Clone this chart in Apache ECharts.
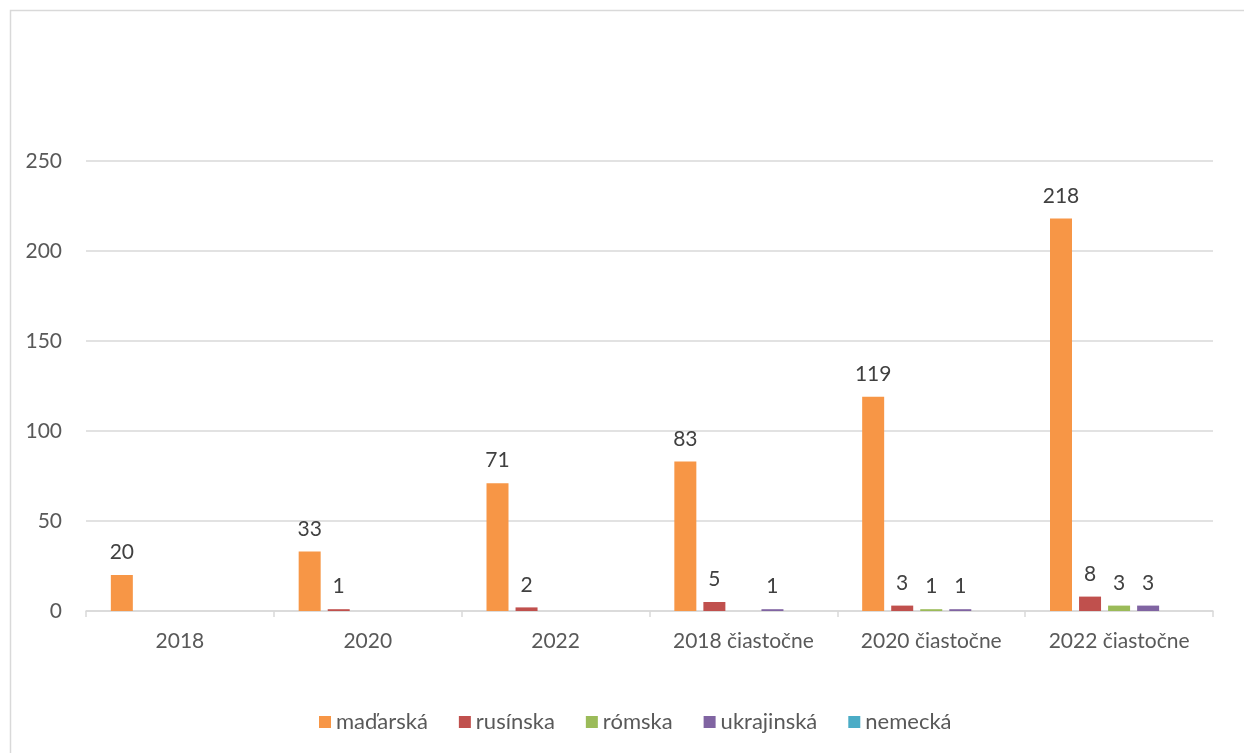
<!DOCTYPE html>
<html>
<head>
<meta charset="utf-8">
<script src="https://cdn.jsdelivr.net/npm/echarts@6/dist/echarts.min.js"></script>
<style>
  html, body { margin: 0; padding: 0; background: #fff; }
  #chart { width: 1244px; height: 753px; }
</style>
</head>
<body>
<div id="chart"></div>
<script>
// Categories on the x axis
const categories = ['2018', '2020', '2022', '2018 čiastočne', '2020 čiastočne', '2022 čiastočne'];

// Series values per language
const madarska   = [20, 33, 71, 83, 119, 218];
const rusinska   = [0, 1, 2, 5, 3, 8];
const romska     = [0, 0, 0, 0, 1, 3];
const ukrajinska = [0, 0, 0, 1, 1, 3];
const nemecka    = [0, 0, 0, 0, 0, 0];

const seriesDefs = [
  { name: 'maďarská',   data: madarska,   color: '#F79646' },
  { name: 'rusínska',   data: rusinska,   color: '#C0504D' },
  { name: 'rómska',     data: romska,     color: '#9BBB59' },
  { name: 'ukrajinská', data: ukrajinska, color: '#8064A2' },
  { name: 'nemecká',    data: nemecka,    color: '#4BACC6' }
];

const FONT = 'Lato, "Open Sans", sans-serif';

const chart = echarts.init(document.getElementById('chart'), null, { renderer: 'canvas' });

chart.setOption({
  backgroundColor: '#ffffff',
  animation: false,
  textStyle: { fontFamily: FONT },
  graphic: [{
    type: 'rect',
    shape: { x: 10.5, y: 10.5, width: 1260, height: 780 },
    style: { fill: 'none', stroke: '#d9d9d9', lineWidth: 1.5 },
    silent: true,
    z: -10
  }],
  grid: { left: 86, right: 31, top: 161, bottom: 142, containLabel: false },
  legend: {
    bottom: 15,
    left: 314,
    itemWidth: 12,
    itemHeight: 12,
    itemGap: 31,
    icon: 'rect',
    textStyle: { fontSize: 22, color: '#595959', fontFamily: FONT },
    data: seriesDefs.map(s => s.name)
  },
  xAxis: {
    type: 'category',
    data: categories,
    axisLine: { lineStyle: { color: '#d9d9d9', width: 1.5 } },
    axisTick: { show: true, length: 6, lineStyle: { color: '#d9d9d9', width: 1.5 } },
    axisLabel: { fontSize: 21, color: '#595959', margin: 20, fontFamily: FONT }
  },
  yAxis: {
    type: 'value',
    min: 0,
    max: 250,
    interval: 50,
    axisLine: { show: false },
    axisTick: { show: false },
    axisLabel: { fontSize: 21, color: '#595959', margin: 24, fontFamily: FONT },
    splitLine: { lineStyle: { color: '#d9d9d9', width: 1.5 } }
  },
  series: seriesDefs.map(s => ({
    name: s.name,
    type: 'bar',
    data: s.data,
    barWidth: 22,
    barGap: '32%',
    itemStyle: { color: s.color },
    label: {
      show: true,
      position: 'top',
      distance: 12,
      fontSize: 21,
      color: '#404040',
      fontFamily: FONT,
      formatter: p => (p.value === 0 ? '' : String(p.value))
    }
  }))
});
</script>
</body>
</html>
